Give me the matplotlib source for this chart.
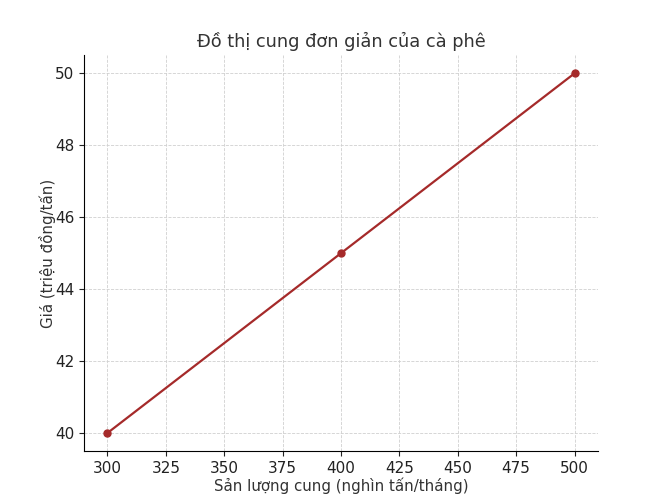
import matplotlib
matplotlib.use("Agg")
import matplotlib.pyplot as plt

quantity = [300, 400, 500]
price = [40, 45, 50]

plt.rcParams['text.color'] = '#333333'
plt.rcParams['axes.labelcolor'] = '#333333'

fig = plt.figure(figsize=(6.52, 4.97), dpi=100)
ax = fig.add_axes([0.129, 0.0926, 0.788, 0.796])

ax.plot(quantity, price, marker='o', color='brown', linewidth=1.6, markersize=5)

ax.set_title("Đồ thị cung đơn giản của cà phê", fontsize=12.8, color='#333333')
ax.set_xlabel("Sản lượng cung (nghìn tấn/tháng)", fontsize=10.8, labelpad=1)
ax.set_ylabel("Giá (triệu đồng/tấn)", fontsize=10.8, labelpad=-1)
ax.set_xticks(range(300, 501, 25))
ax.set_yticks(range(40, 51, 2))
ax.tick_params(labelsize=11, colors='#222222')
ax.grid(True, linestyle='--', color='#d0d0d0', linewidth=0.6)
ax.spines['top'].set_visible(False)
ax.spines['right'].set_visible(False)

fig.savefig("out.png", dpi=100)
